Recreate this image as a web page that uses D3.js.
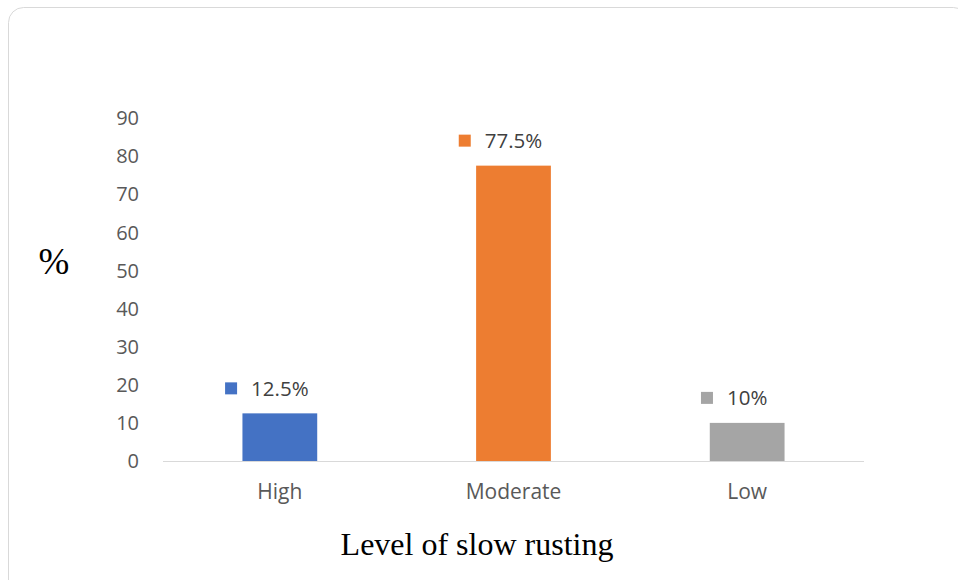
<!doctype html>
<html>
  <head>
    <script src="https://d3js.org/d3.v7.min.js"></script>
    <style>
      body { margin: 0; background: #fff; }
    </style>
  </head>
  <body>
    <div id="chart"></div>
    <script>
      // chart data
      var categories = ["High", "Moderate", "Low"];
      var values = [12.5, 77.5, 10];
      var labels = ["12.5%", "77.5%", "10%"];
      var colors = ["#4472c4", "#ed7d31", "#a5a5a5"];
      var yTicks = [0, 10, 20, 30, 40, 50, 60, 70, 80, 90];

      var width = 958, height = 580;
      var sans = "'Open Sans', 'Noto Sans', sans-serif";
      var serif = "'Liberation Serif', 'DejaVu Serif', serif";

      var svg = d3.select("#chart").append("svg")
        .attr("width", width)
        .attr("height", height);

      // outer chart frame
      svg.append("rect")
        .attr("x", 8.5).attr("y", 7.5)
        .attr("width", 960).attr("height", 600)
        .attr("rx", 15)
        .attr("fill", "#fff")
        .attr("stroke", "#d9d9d9");

      var x = d3.scaleBand().domain(categories).range([163, 864]).paddingInner(0.68).paddingOuter(0.34);
      var y = d3.scaleLinear().domain([0, 90]).range([461, 118]);

      // y tick labels
      svg.selectAll(".ytick").data(yTicks).enter().append("text")
        .attr("x", 139)
        .attr("y", function(d) { return y(d); })
        .attr("dy", "0.36em")
        .attr("text-anchor", "end")
        .style("font-family", sans)
        .style("font-size", "20px")
        .attr("fill", "#595959")
        .text(function(d) { return d; });

      // bars
      svg.selectAll(".bar").data(values).enter().append("rect")
        .attr("x", function(d, i) { return x(categories[i]); })
        .attr("y", function(d) { return y(d); })
        .attr("width", x.bandwidth())
        .attr("height", function(d) { return y(0) - y(d); })
        .attr("fill", function(d, i) { return colors[i]; });

      // baseline
      svg.append("line")
        .attr("x1", 163).attr("x2", 864)
        .attr("y1", y(0) + 0.5).attr("y2", y(0) + 0.5)
        .attr("stroke", "#d9d9d9");

      // category labels
      svg.selectAll(".xlab").data(categories).enter().append("text")
        .attr("x", function(d) { return x(d) + x.bandwidth() / 2; })
        .attr("y", 499)
        .attr("text-anchor", "middle")
        .style("font-family", sans)
        .style("font-size", "21px")
        .attr("fill", "#595959")
        .text(function(d) { return d; });

      // data labels with legend key squares
      var lab = svg.selectAll(".dlab").data(values).enter().append("g")
        .attr("transform", function(d, i) {
          return "translate(" + (x(categories[i]) + x.bandwidth() / 2) + "," + (y(d) - 25) + ")";
        });
      lab.append("text")
        .attr("dy", "0.36em")
        .attr("text-anchor", "middle")
        .style("font-family", sans)
        .style("font-size", "20.5px")
        .attr("fill", "#404040")
        .text(function(d, i) { return labels[i]; });
      lab.append("rect")
        .attr("x", function() {
          var w = this.parentNode.querySelector("text").getComputedTextLength();
          return -w / 2 - 26;
        })
        .attr("y", -6)
        .attr("width", 12).attr("height", 12)
        .attr("fill", function(d, i) { return colors[i]; });

      // axis titles
      svg.append("text")
        .attr("x", 54).attr("y", 274)
        .attr("text-anchor", "middle")
        .style("font-family", serif)
        .style("font-size", "37px")
        .attr("fill", "#000")
        .text("%");
      svg.append("text")
        .attr("x", 477).attr("y", 555)
        .attr("text-anchor", "middle")
        .style("font-family", serif)
        .style("font-size", "32px")
        .attr("fill", "#000")
        .text("Level of slow rusting");
    </script>
  </body>
</html>
